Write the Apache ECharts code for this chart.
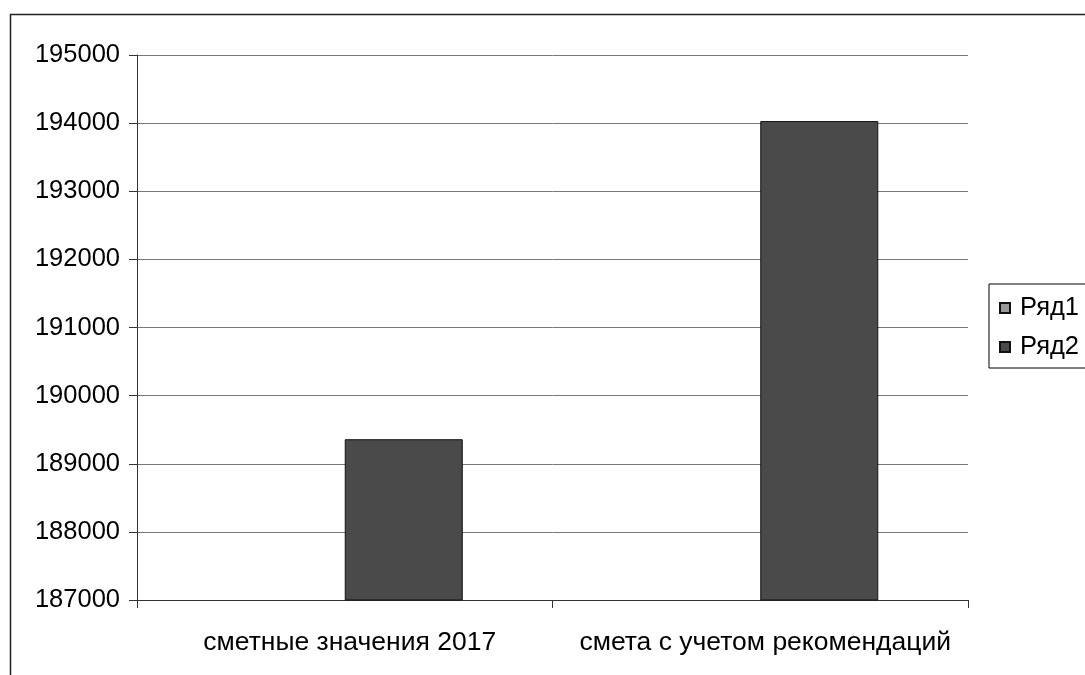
<!DOCTYPE html>
<html>
<head>
<meta charset="utf-8">
<script src="https://cdn.jsdelivr.net/npm/echarts@6/dist/echarts.min.js"></script>
<style>html,body{margin:0;padding:0;background:#fff}#c{width:1085px;height:675px}</style>
</head>
<body>
<div id="c"></div>
<script>
const categories = ['сметные значения 2017', 'смета с учетом рекомендаций'];
const ryad1 = [0, 0];
const ryad2 = [189360, 194030];
const yMin = 187000, yMax = 195000, yStep = 1000;

const chart = echarts.init(document.getElementById('c'), null, {renderer: 'canvas'});
const font = 'Liberation Sans, Arial, sans-serif';
chart.setOption({
  animation: false,
  backgroundColor: '#fff',
  graphic: [{
    type: 'rect', left: 8, top: 12, silent: true,
    shape: {width: 1200, height: 800},
    style: {fill: 'none', stroke: '#222', lineWidth: 1.5}
  }],
  grid: {left: 137, top: 55, right: 117, bottom: 75},
  legend: {
    orient: 'vertical', left: 989, top: 284,
    data: ['Ряд1', 'Ряд2'],
    icon: 'rect', itemWidth: 10, itemHeight: 10, itemGap: 13,
    borderColor: '#000', borderWidth: 1,
    padding: [11, 40, 8, 10],
    textStyle: {fontFamily: font, fontSize: 25.5, color: '#000', lineHeight: 24, padding: [0, 0, 0, 5]}
  },
  xAxis: {
    type: 'category', data: categories,
    axisLine: {lineStyle: {color: '#333', width: 1}},
    axisTick: {show: true, length: 8, lineStyle: {color: '#333'}},
    axisLabel: {fontFamily: font, fontSize: 26.5, color: '#000', margin: 29, interval: 0,
      padding: [0, 0, 0, 10]},
    splitLine: {show: false}
  },
  yAxis: {
    type: 'value', min: yMin, max: yMax, interval: yStep,
    axisLine: {show: true, lineStyle: {color: '#333', width: 1}},
    axisTick: {show: true, length: 8, lineStyle: {color: '#333'}},
    axisLabel: {fontFamily: font, fontSize: 25.5, color: '#000', margin: 17,
      formatter: function (v) { return String(v); }},
    splitLine: {lineStyle: {color: '#777', width: 1}}
  },
  series: [
    {name: 'Ряд1', type: 'bar', data: ryad1, barWidth: 118, barGap: '0%', clip: true,
     itemStyle: {color: '#999999', borderColor: '#111', borderWidth: 1}},
    {name: 'Ряд2', type: 'bar', data: ryad2, barWidth: 118, barGap: '0%', clip: true,
     itemStyle: {color: '#4a4a4a', borderColor: '#111', borderWidth: 1}}
  ]
});
</script>
</body>
</html>
